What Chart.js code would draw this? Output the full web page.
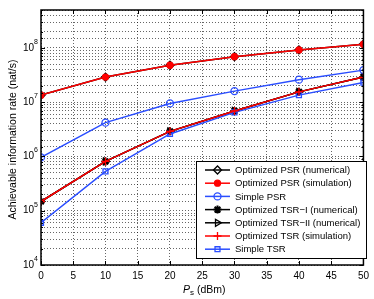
<!DOCTYPE html>
<html><head><meta charset="utf-8">
<script src="https://cdn.jsdelivr.net/npm/chart.js@4/dist/chart.umd.min.js"></script>
<style>html,body{margin:0;padding:0;background:#fff}#w{width:374px;height:299px}</style>
</head><body><div id="w"><canvas id="c" width="374" height="299"></canvas></div>
<script>
const xValues = [0, 10, 20, 30, 40, 50];
const xTicks = [0, 5, 10, 15, 20, 25, 30, 35, 40, 45, 50];
const yTickExponents = [4, 5, 6, 7, 8];
const optPsrNum = [1.35e7, 2.9e7, 4.8e7, 6.9e7, 9.2e7, 1.17e8];
const optPsrSim = [1.35e7, 2.9e7, 4.8e7, 6.9e7, 9.2e7, 1.17e8];
const simplePsr = [9.6e5, 4.2e6, 9.5e6, 1.6e7, 2.6e7, 3.9e7];
const optTsr1Num = [1.48e5, 8.1e5, 2.9e6, 6.9e6, 1.55e7, 2.9e7];
const optTsr2Num = [1.48e5, 8.1e5, 2.9e6, 6.9e6, 1.55e7, 2.9e7];
const optTsrSim = [1.48e5, 8.1e5, 2.9e6, 6.9e6, 1.55e7, 2.9e7];
const simpleTsr = [6.0e4, 5.3e5, 2.6e6, 6.5e6, 1.35e7, 2.3e7];
const seriesNames = ['Optimized PSR (numerical)', 'Optimized PSR (simulation)', 'Simple PSR',
  'Optimized TSR\u2212I (numerical)', 'Optimized TSR\u2212II (numerical)', 'Optimized TSR (simulation)', 'Simple TSR'];

const RED = '#ff0000', BLUE = '#2a4dff', BLACK = '#000', NONE = 'rgba(0,0,0,0)';
function pts(arr){ return xValues.map((x,i)=>({x:x, y:arr[i]})); }
function ds(label, data, color, style, radius, fill, order, rot, bw){
  return {label, data: pts(data), borderColor: color, backgroundColor: fill, pointBorderColor: color,
    pointBackgroundColor: fill, pointStyle: style, pointRadius: radius, pointBorderWidth: bw||1.3,
    pointRotation: rot||0, borderWidth: 1.5, tension: 0, order};
}
const datasets = [
  ds(seriesNames[0], optPsrNum, BLACK, 'rectRot', 4, NONE, 3),
  ds(seriesNames[1], optPsrSim, RED, 'circle', 3, RED, 0),
  ds(seriesNames[2], simplePsr, BLUE, 'circle', 3.5, NONE, 1),
  ds(seriesNames[3], optTsr1Num, BLACK, 'star', 4, BLACK, 3, 0, 2),
  ds(seriesNames[4], optTsr2Num, BLACK, 'triangle', 4, NONE, 3, 90),
  ds(seriesNames[5], optTsrSim, RED, 'cross', 4, RED, 0),
  ds(seriesNames[6], simpleTsr, BLUE, 'rect', 3.5, NONE, 1)
];

const FONT = '"Liberation Sans", Arial, sans-serif';
const deco = {
  id: 'deco',
  afterDraw(chart){
    const ctx = chart.ctx, a = chart.chartArea, ys = chart.scales.y, xs = chart.scales.x;
    ctx.save();
    ctx.strokeStyle = '#000'; ctx.lineWidth = 1;
    ctx.beginPath();
    xTicks.forEach(t=>{ const px = Math.round(xs.getPixelForValue(t))+0.5;
      ctx.moveTo(px,a.bottom); ctx.lineTo(px,a.bottom-4); ctx.moveTo(px,a.top); ctx.lineTo(px,a.top+4); });
    ys.ticks.forEach(t=>{ const py = Math.round(ys.getPixelForValue(t.value))+0.5;
      const major = Math.abs(Math.log10(t.value)-Math.round(Math.log10(t.value)))<1e-6;
      const L = major?4:2;
      ctx.moveTo(a.left,py); ctx.lineTo(a.left+L,py); ctx.moveTo(a.right,py); ctx.lineTo(a.right-L,py); });
    ctx.stroke();
    ctx.lineWidth = 1.5; ctx.strokeRect(a.left, a.top, a.right-a.left, a.bottom-a.top);
    ctx.fillStyle = '#000'; ctx.textBaseline = 'middle';
    yTickExponents.forEach(e=>{
      const py = ys.getPixelForValue(Math.pow(10,e));
      ctx.font = '7px '+FONT; const ew = ctx.measureText(String(e)).width;
      ctx.textAlign = 'right'; ctx.fillText(String(e), a.left-3, py-6);
      ctx.font = '10px '+FONT; ctx.fillText('10', a.left-3-ew, py);
    });
    ctx.textAlign = 'left'; ctx.textBaseline = 'alphabetic';
    ctx.font = 'italic 10.5px '+FONT; const pW = ctx.measureText('P').width;
    ctx.font = '8px '+FONT; const sW = ctx.measureText('s').width;
    ctx.font = '10.5px '+FONT; const rest = ' (dBm)'; const rW = ctx.measureText(rest).width;
    let x0 = (a.left+a.right)/2 - (pW+sW+rW)/2 + 2; const yb = 293;
    ctx.font = 'italic 10.5px '+FONT; ctx.fillText('P', x0, yb);
    ctx.font = '8px '+FONT; ctx.fillText('s', x0+pW, yb+2);
    ctx.font = '10.5px '+FONT; ctx.fillText(rest, x0+pW+sW, yb);
    ctx.save(); ctx.translate(16, (a.top+a.bottom)/2 + 2); ctx.rotate(-Math.PI/2);
    ctx.textAlign = 'center'; ctx.font = '10.5px '+FONT;
    ctx.fillText('Achievable information rate (nat/s)', 0, 0); ctx.restore();
    // legend
    const lx = 196, ly = 161, lw = 170, lh = 97;
    ctx.fillStyle = '#fff'; ctx.fillRect(lx, ly, lw, lh);
    ctx.strokeStyle = '#000'; ctx.lineWidth = 1; ctx.strokeRect(lx+0.5, ly+0.5, lw, lh);
    chart.data.datasets.forEach((d,i)=>{
      const cy = 170 + i*13.2;
      ctx.strokeStyle = d.borderColor; ctx.lineWidth = 1.5;
      ctx.beginPath(); ctx.moveTo(205, cy); ctx.lineTo(230, cy); ctx.stroke();
      ctx.strokeStyle = d.pointBorderColor; ctx.fillStyle = d.pointBackgroundColor; ctx.lineWidth = d.pointBorderWidth;
      Chart.helpers.drawPoint(ctx, {pointStyle: d.pointStyle, radius: d.pointRadius, borderWidth: d.pointBorderWidth, rotation: d.pointRotation},
        217.5, cy);
      ctx.fillStyle = '#000'; ctx.font = '9.5px '+FONT; ctx.textAlign = 'left'; ctx.textBaseline = 'middle';
      ctx.fillText(d.label, 235, cy+0.5);
    });
    ctx.restore();
  }
};

const gridOpts = { color: 'rgba(0,0,0,0.6)', lineWidth: 1, drawTicks: false, tickLength: 0 };
const borderOpts = { display: false, dash: [1, 2] };
new Chart(document.getElementById('c'), {
  type: 'line',
  data: { datasets },
  options: {
    responsive: false, animation: false, devicePixelRatio: 1,
    layout: { padding: { top: 10, right: 8, left: 0, bottom: 0 } },
    plugins: { legend: { display: false }, tooltip: { enabled: false } },
    scales: {
      x: { type: 'linear', min: 0, max: 50,
        afterBuildTicks(s){ s.ticks = xTicks.map(v=>({value:v})); },
        afterFit(s){ s.height = 34; },
        grid: gridOpts, border: borderOpts,
        ticks: { color: '#000', font: { size: 10, family: FONT }, padding: 5, maxRotation: 0, autoSkip: false }
      },
      y: { type: 'logarithmic', min: 1e4, max: 5e8,
        afterFit(s){ s.width = 41; },
        grid: gridOpts, border: borderOpts,
        ticks: { display: false, autoSkip: false }
      }
    }
  },
  plugins: [deco]
});
</script>
</body></html>
